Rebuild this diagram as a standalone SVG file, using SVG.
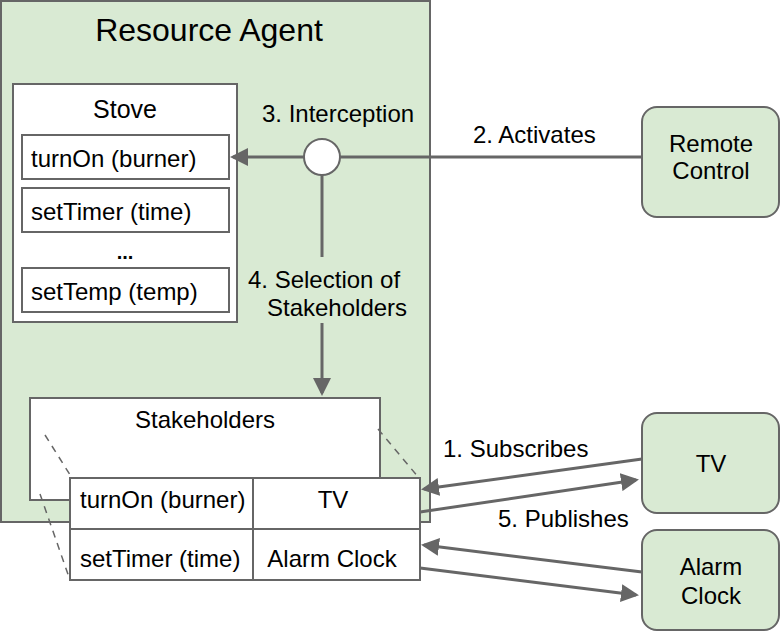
<svg xmlns="http://www.w3.org/2000/svg" width="781" height="633" viewBox="0 0 781 633">
<style>
text{font-family:"Liberation Sans",Arial,sans-serif;font-size:24px;fill:#000}
.c{text-anchor:middle}
.box{fill:#fff;stroke:#666;stroke-width:2}
.g{fill:#d9ead3;stroke:#666;stroke-width:2}
.ln{stroke:#666;stroke-width:3;fill:none}
.dash{stroke:#666;stroke-width:1.5;stroke-dasharray:7,6;fill:none}
</style>
<defs>
<marker id="ah" markerWidth="6" markerHeight="6" refX="5" refY="3" orient="auto" markerUnits="strokeWidth">
<path d="M0,0 L6,3 L0,6 Z" fill="#666"/>
</marker>
</defs>
<g id="resource-agent">
<rect class="g" x="1" y="1" width="429" height="521"/>
<text class="c" x="209" y="41" style="font-size:32px">Resource Agent</text>
</g>
<g id="stove">
<rect class="box" x="13" y="84" width="224" height="238"/>
<text class="c" x="125" y="118" style="font-size:25px">Stove</text>
<rect class="box" x="22" y="135" width="207" height="44"/>
<text x="31" y="167">turnOn (burner)</text>
<rect class="box" x="22" y="188" width="207" height="44"/>
<text x="31" y="220">setTimer (time)</text>
<text class="c" x="125" y="259" style="font-weight:bold;font-size:20px">...</text>
<rect class="box" x="22" y="268" width="207" height="44"/>
<text x="31" y="300">setTemp (temp)</text>
</g>
<g id="stakeholders">
<rect class="box" x="30" y="398" width="350" height="102"/>
<text class="c" x="205" y="428">Stakeholders</text>
</g>
<g id="connectors">
<line class="ln" x1="304" y1="157" x2="233" y2="157" marker-end="url(#ah)"/>
<line class="ln" x1="340" y1="157" x2="642" y2="157"/>
<line class="ln" x1="322" y1="175" x2="322" y2="257"/>
<line class="ln" x1="322" y1="323" x2="322" y2="393" marker-end="url(#ah)"/>
<line class="ln" x1="642" y1="459" x2="424" y2="489" marker-end="url(#ah)"/>
<line class="ln" x1="420" y1="512" x2="636" y2="480" marker-end="url(#ah)"/>
<line class="ln" x1="642" y1="572" x2="424" y2="545" marker-end="url(#ah)"/>
<line class="ln" x1="420" y1="568" x2="636" y2="595" marker-end="url(#ah)"/>
<line class="dash" x1="45" y1="435" x2="72" y2="478"/>
<line class="dash" x1="40" y1="494" x2="70" y2="580"/>
<line class="dash" x1="378" y1="429" x2="419" y2="478"/>
</g>
<g id="interception">
<circle cx="322" cy="157" r="18" fill="#fff" stroke="#666" stroke-width="2"/>
</g>
<g id="labels">
<text x="262" y="122">3. Interception</text>
<text x="473" y="143">2. Activates</text>
<text x="248" y="288">4. Selection of</text>
<text x="267" y="316">Stakeholders</text>
<text x="443" y="457">1. Subscribes</text>
<text x="498" y="527">5. Publishes</text>
</g>
<g id="table">
<rect class="box" x="70" y="478" width="350" height="102"/>
<line stroke="#666" stroke-width="2" x1="70" y1="529" x2="420" y2="529"/>
<line stroke="#666" stroke-width="2" x1="253" y1="478" x2="253" y2="580"/>
<text x="80" y="508">turnOn (burner)</text>
<text class="c" x="333" y="508">TV</text>
<text x="80" y="567">setTimer (time)</text>
<text class="c" x="332" y="567">Alarm Clock</text>
</g>
<g id="remote-control">
<rect class="g" x="642" y="107" width="137" height="110" rx="15"/>
<text class="c" x="711" y="152">Remote</text>
<text class="c" x="711" y="179">Control</text>
</g>
<g id="tv">
<rect class="g" x="642" y="413" width="137" height="100" rx="15"/>
<text class="c" x="711" y="472">TV</text>
</g>
<g id="alarm-clock">
<rect class="g" x="642" y="530" width="137" height="100" rx="15"/>
<text class="c" x="711" y="575">Alarm</text>
<text class="c" x="711" y="604">Clock</text>
</g>
</svg>
